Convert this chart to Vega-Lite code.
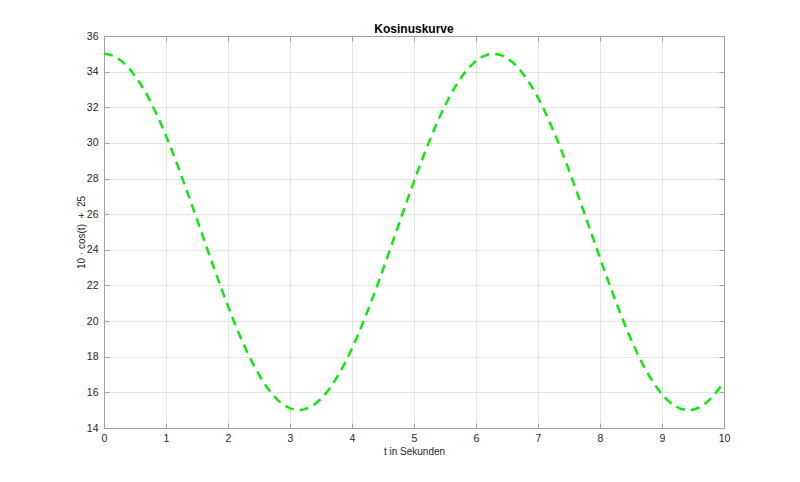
{
  "$schema": "https://vega.github.io/schema/vega-lite/v6.json",
  "autosize": {"type": "none"},
  "padding": {"left": 104, "top": 36, "right": 76, "bottom": 54},
  "width": 620,
  "height": 392,
  "background": "white",
  "title": {"text": "Kosinuskurve", "font": "Liberation Sans", "fontSize": 12, "fontWeight": "bold", "color": "#000000", "offset": -5},
  "config": {
    "view": {"stroke": null},
    "axis": {
      "labelFont": "Liberation Sans", "labelFontSize": 10.5, "labelColor": "#262626",
      "titleFont": "Liberation Sans", "titleFontSize": 10, "titleFontWeight": "normal", "titleColor": "#262626",
      "domainColor": "#a0a0a0", "domainWidth": 1,
      "tickColor": "#a0a0a0", "tickSize": -5, "tickWidth": 1,
      "gridColor": "#e5e5e5", "gridWidth": 1
    }
  },
  "data": {"values": [
    {"t": 0.0, "y": 35.00}, {"t": 0.1, "y": 34.95}, {"t": 0.2, "y": 34.80}, {"t": 0.3, "y": 34.55},
    {"t": 0.4, "y": 34.21}, {"t": 0.5, "y": 33.78}, {"t": 0.6, "y": 33.25}, {"t": 0.7, "y": 32.65},
    {"t": 0.8, "y": 31.97}, {"t": 0.9, "y": 31.22}, {"t": 1.0, "y": 30.40}, {"t": 1.1, "y": 29.54},
    {"t": 1.2, "y": 28.62}, {"t": 1.3, "y": 27.67}, {"t": 1.4, "y": 26.70}, {"t": 1.5, "y": 25.71},
    {"t": 1.6, "y": 24.71}, {"t": 1.7, "y": 23.71}, {"t": 1.8, "y": 22.73}, {"t": 1.9, "y": 21.77},
    {"t": 2.0, "y": 20.84}, {"t": 2.1, "y": 19.95}, {"t": 2.2, "y": 19.11}, {"t": 2.3, "y": 18.34},
    {"t": 2.4, "y": 17.63}, {"t": 2.5, "y": 16.99}, {"t": 2.6, "y": 16.43}, {"t": 2.7, "y": 15.96},
    {"t": 2.8, "y": 15.58}, {"t": 2.9, "y": 15.29}, {"t": 3.0, "y": 15.10}, {"t": 3.1, "y": 15.01},
    {"t": 3.2, "y": 15.02}, {"t": 3.3, "y": 15.13}, {"t": 3.4, "y": 15.33}, {"t": 3.5, "y": 15.64},
    {"t": 3.6, "y": 16.03}, {"t": 3.7, "y": 16.52}, {"t": 3.8, "y": 17.09}, {"t": 3.9, "y": 17.74},
    {"t": 4.0, "y": 18.46}, {"t": 4.1, "y": 19.25}, {"t": 4.2, "y": 20.10}, {"t": 4.3, "y": 20.99},
    {"t": 4.4, "y": 21.93}, {"t": 4.5, "y": 22.89}, {"t": 4.6, "y": 23.88}, {"t": 4.7, "y": 24.88},
    {"t": 4.8, "y": 25.87}, {"t": 4.9, "y": 26.87}, {"t": 5.0, "y": 27.84}, {"t": 5.1, "y": 28.78},
    {"t": 5.2, "y": 29.69}, {"t": 5.3, "y": 30.54}, {"t": 5.4, "y": 31.35}, {"t": 5.5, "y": 32.09},
    {"t": 5.6, "y": 32.76}, {"t": 5.7, "y": 33.35}, {"t": 5.8, "y": 33.86}, {"t": 5.9, "y": 34.27},
    {"t": 6.0, "y": 34.60}, {"t": 6.1, "y": 34.83}, {"t": 6.2, "y": 34.97}, {"t": 6.3, "y": 35.00},
    {"t": 6.4, "y": 34.93}, {"t": 6.5, "y": 34.77}, {"t": 6.6, "y": 34.50}, {"t": 6.7, "y": 34.14},
    {"t": 6.8, "y": 33.69}, {"t": 6.9, "y": 33.16}, {"t": 7.0, "y": 32.54}, {"t": 7.1, "y": 31.85},
    {"t": 7.2, "y": 31.08}, {"t": 7.3, "y": 30.26}, {"t": 7.4, "y": 29.39}, {"t": 7.5, "y": 28.47},
    {"t": 7.6, "y": 27.51}, {"t": 7.7, "y": 26.53}, {"t": 7.8, "y": 25.54}, {"t": 7.9, "y": 24.54},
    {"t": 8.0, "y": 23.55}, {"t": 8.1, "y": 22.56}, {"t": 8.2, "y": 21.61}, {"t": 8.3, "y": 20.69},
    {"t": 8.4, "y": 19.81}, {"t": 8.5, "y": 18.98}, {"t": 8.6, "y": 18.21}, {"t": 8.7, "y": 17.51},
    {"t": 8.8, "y": 16.89}, {"t": 8.9, "y": 16.35}, {"t": 9.0, "y": 15.89}, {"t": 9.1, "y": 15.52},
    {"t": 9.2, "y": 15.25}, {"t": 9.3, "y": 15.08}, {"t": 9.4, "y": 15.00}, {"t": 9.5, "y": 15.03},
    {"t": 9.6, "y": 15.15}, {"t": 9.7, "y": 15.38}, {"t": 9.8, "y": 15.70}, {"t": 9.9, "y": 16.11},
    {"t": 10.0, "y": 16.61}
  ]},
  "layer": [
    {
      "mark": {"type": "line", "color": "#11e611", "strokeWidth": 2.5, "strokeDash": [9, 6], "clip": true},
      "encoding": {
        "x": {"field": "t", "type": "quantitative", "title": "t in Sekunden",
          "scale": {"domain": [0, 10], "nice": false},
          "axis": {"orient": "bottom", "values": [0, 1, 2, 3, 4, 5, 6, 7, 8, 9, 10], "grid": true, "labelPadding": 10, "titlePadding": 3, "labelFlush": false}},
        "y": {"field": "y", "type": "quantitative", "title": "10 · cos(t) \u00a0+ \u00a025",
          "scale": {"domain": [14, 36], "nice": false, "zero": false},
          "axis": {"orient": "left", "values": [14, 16, 18, 20, 22, 24, 26, 28, 30, 32, 34, 36], "grid": true, "labelPadding": 11, "titlePadding": 0, "labelFlush": false}}
      }
    },
    {
      "mark": {"type": "line", "opacity": 0},
      "encoding": {
        "x": {"field": "t", "type": "quantitative",
          "axis": {"orient": "top", "values": [0, 1, 2, 3, 4, 5, 6, 7, 8, 9, 10], "labels": false, "title": null, "grid": false}},
        "y": {"field": "y", "type": "quantitative",
          "axis": {"orient": "right", "values": [14, 16, 18, 20, 22, 24, 26, 28, 30, 32, 34, 36], "labels": false, "title": null, "grid": false}}
      }
    }
  ],
  "resolve": {"axis": {"x": "independent", "y": "independent"}}
}
